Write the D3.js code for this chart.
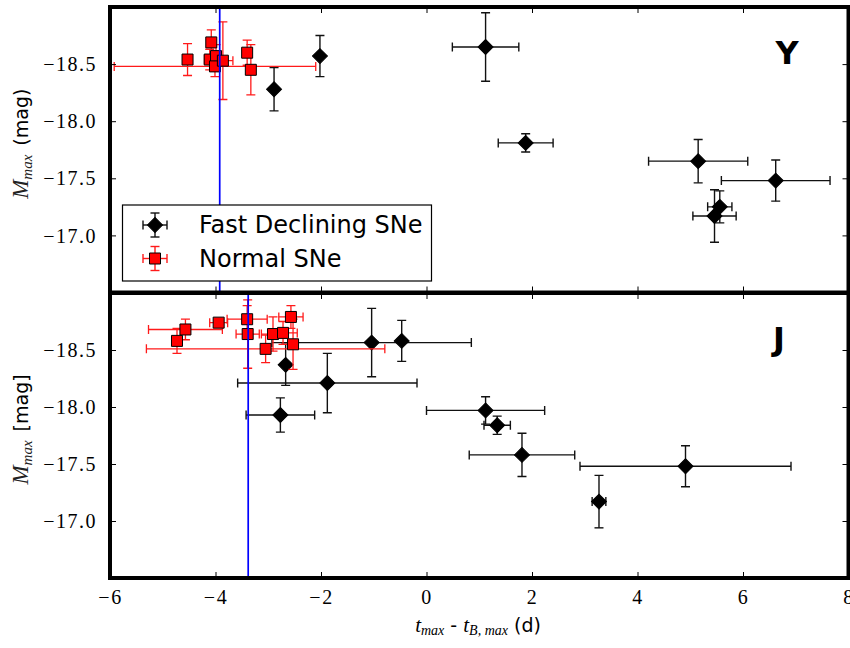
<!DOCTYPE html>
<html>
<head>
<meta charset="utf-8">
<script src="https://cdn.jsdelivr.net/npm/d3@7"></script>
<style>
body { margin: 0; background: #fff; }
</style>
</head>
<body>
<svg id="chart" width="850" height="648"></svg>
<script>
// values
var xTicks = [-6, -4, -2, 0, 2, 4, 6, 8];
var magTicks = [-18.5, -18.0, -17.5, -17.0];

// Y band, fast declining
var yFastT    = [-2.02, -2.89, 1.12, 1.88, 5.15, 6.62, 5.56, 5.46];
var yFastTerr = [0, 0, 0.63, 0.52, 0.94, 1.03, 0.23, 0.41];
var yFastM    = [-18.57, -18.28, -18.65, -17.81, -17.65, -17.48, -17.25, -17.17];
var yFastMerr = [0.18, 0.19, 0.30, 0.08, 0.19, 0.18, 0.14, 0.23];

// Y band, normal
var yNormT    = [-4.53, -4.08, -4.11, -3.99, -4.01, -3.86, -3.40, -3.33];
var yNormTerr = [0, 0, 0.10, 0, 1.91, 0.19, 0, 0];
var yNormM    = [-18.54, -18.69, -18.54, -18.57, -18.48, -18.53, -18.60, -18.45];
var yNormMerr = [0.14, 0.11, 0.09, 0.10, 0.09, 0.34, 0.11, 0.22];

// J band, fast declining
var jFastT    = [-2.67, -1.88, -2.77, -1.04, -0.47, 1.12, 1.34, 1.81, 4.91, 3.27];
var jFastTerr = [0, 1.70, 0.65, 1.89, 0, 1.12, 0.25, 1.00, 2.00, 0.13];
var jFastM    = [-18.37, -18.21, -17.93, -18.565, -18.58, -17.97, -17.84, -17.58, -17.48, -17.17];
var jFastMerr = [0.18, 0.26, 0.15, 0.30, 0.18, 0.12, 0.08, 0.19, 0.18, 0.23];

// J band, normal
var jNormT    = [-4.73, -4.57, -3.94, -3.40, -3.39, -3.05, -2.91, -2.72, -2.57, -2.53];
var jNormTerr = [0, 0.70, 0.17, 0.38, 0.22, 2.26, 0.22, 0.27, 0.23, 0];
var jNormM    = [-18.58, -18.68, -18.74, -18.77, -18.64, -18.51, -18.64, -18.65, -18.79, -18.55];
var jNormMerr = [0.11, 0.09, 0.03, 0.12, 0.30, 0.12, 0.15, 0.10, 0.10, 0.22];

// mean offsets (blue lines)
var yMeanT = -3.92;
var jMeanT = -3.38;

var svg = d3.select("#chart");

var left = 110, right = 848.5;
var xScale = d3.scaleLinear().domain([-6, 8]).range([left, right]);

var panels = [
	{ name: "Y", top: 7, bottom: 292.5, letterX: 787, letterY: 64, ylab: "(mag)",
	  fast: [yFastT, yFastTerr, yFastM, yFastMerr], norm: [yNormT, yNormTerr, yNormM, yNormMerr], mean: yMeanT },
	{ name: "J", top: 293, bottom: 578, letterX: 779, letterY: 350, ylab: "[mag]",
	  fast: [jFastT, jFastTerr, jFastM, jFastMerr], norm: [jNormT, jNormTerr, jNormM, jNormMerr], mean: jMeanT }
];

function errorbars(g, ys, d, color, lw, cap) {
	var t = d[0], tErr = d[1], m = d[2], mErr = d[3];
	var idx = d3.range(t.length);
	var withT = idx.filter(i => tErr[i] > 0);
	var withM = idx.filter(i => mErr[i] > 0);

	var eg = g.append("g").attr("stroke", color).attr("stroke-width", lw);
	eg.selectAll(".xe").data(withT).join("line")
		.attr("x1", i => xScale(t[i] - tErr[i])).attr("x2", i => xScale(t[i] + tErr[i]))
		.attr("y1", i => ys(m[i])).attr("y2", i => ys(m[i]));
	eg.selectAll(".ye").data(withM).join("line")
		.attr("x1", i => xScale(t[i])).attr("x2", i => xScale(t[i]))
		.attr("y1", i => ys(m[i] - mErr[i])).attr("y2", i => ys(m[i] + mErr[i]));
	// caps
	[-1, 1].forEach(function(s) {
		eg.selectAll(null).data(withT).join("line")
			.attr("x1", i => xScale(t[i] + s * tErr[i])).attr("x2", i => xScale(t[i] + s * tErr[i]))
			.attr("y1", i => ys(m[i]) - cap).attr("y2", i => ys(m[i]) + cap);
		eg.selectAll(null).data(withM).join("line")
			.attr("x1", i => xScale(t[i]) - cap).attr("x2", i => xScale(t[i]) + cap)
			.attr("y1", i => ys(m[i] + s * mErr[i])).attr("y2", i => ys(m[i] + s * mErr[i]));
	});
	return idx;
}

var diamond = d3.symbol(d3.symbolSquare, 112);
var square = d3.symbol(d3.symbolSquare, 121);

panels.forEach(function(p, k) {
	var yScale = d3.scaleLinear().domain([-19, -16.5]).range([p.top, p.bottom]);

	var clipId = "clip" + k;
	svg.append("clipPath").attr("id", clipId)
		.append("rect").attr("x", left).attr("y", p.top).attr("width", right - left).attr("height", p.bottom - p.top);

	var g = svg.append("g").attr("clip-path", "url(#" + clipId + ")");

	// fast decliners
	var idx = errorbars(g, yScale, p.fast, "#111", 1.4, 4.5);
	g.selectAll(".fast").data(idx).join("path")
		.attr("d", diamond)
		.attr("transform", i => "translate(" + xScale(p.fast[0][i]) + "," + yScale(p.fast[2][i]) + ") rotate(45)")
		.attr("fill", "#000").attr("stroke", "#000").attr("stroke-width", 1);

	// normal
	idx = errorbars(g, yScale, p.norm, "#ff1a1a", 1.3, 4.5);
	g.selectAll(".norm").data(idx).join("path")
		.attr("d", square)
		.attr("transform", i => "translate(" + xScale(p.norm[0][i]) + "," + yScale(p.norm[2][i]) + ")")
		.attr("fill", "#ff0000").attr("stroke", "#000").attr("stroke-width", 1);

	// blue mean line
	g.append("line")
		.attr("x1", xScale(p.mean)).attr("x2", xScale(p.mean))
		.attr("y1", p.top).attr("y2", p.bottom)
		.attr("stroke", "#0000ff").attr("stroke-width", 1.7);

	// axes with inward ticks
	var yAxis = d3.axisLeft(yScale).tickValues(magTicks).tickSizeInner(-6).tickSizeOuter(0)
		.tickPadding(13).tickFormat(d3.format(".1f"));
	var ya = svg.append("g").attr("transform", "translate(" + left + ",0)").call(yAxis);
	svg.append("g").attr("transform", "translate(" + right + ",0)")
		.call(d3.axisRight(yScale).tickValues(magTicks).tickSizeInner(-6).tickSizeOuter(0).tickFormat(""));

	var xb = svg.append("g").attr("transform", "translate(0," + p.bottom + ")")
		.call(d3.axisBottom(xScale).tickValues(xTicks).tickSizeInner(-6).tickSizeOuter(0)
			.tickPadding(12).tickFormat(k == 1 ? d3.format("d") : ""));
	svg.append("g").attr("transform", "translate(0," + p.top + ")")
		.call(d3.axisTop(xScale).tickValues(xTicks).tickSizeInner(-6).tickSizeOuter(0).tickFormat(""));

	svg.selectAll(".domain").remove();
	[ya, xb].forEach(function(a) {
		a.selectAll("text").attr("font-family", "Liberation Serif, serif").attr("font-size", 20)
			.attr("letter-spacing", 1.5).attr("fill", "#000");
	});
	ya.selectAll("text").attr("dy", "0.33em");
	svg.selectAll(".tick line").attr("stroke", "#000").attr("stroke-width", 1);

	// frame
	svg.append("rect")
		.attr("x", left).attr("y", p.top).attr("width", right - left).attr("height", p.bottom - p.top)
		.attr("fill", "none").attr("stroke", "#000").attr("stroke-width", 4);

	// band letter
	svg.append("text")
		.attr("x", p.letterX).attr("y", p.letterY)
		.attr("text-anchor", "middle")
		.attr("font-family", "DejaVu Sans").attr("font-weight", "bold").attr("font-size", 32)
		.text(p.name);

	// y label
	var cy = (p.top + p.bottom) / 2 - 6;
	var lab = svg.append("text")
		.attr("transform", "translate(28," + cy + ") rotate(-90)")
		.attr("text-anchor", "middle").attr("fill", "#222");
	lab.append("tspan").attr("font-family", "Liberation Serif, serif").attr("font-style", "italic")
		.attr("font-size", 23).text("M");
	lab.append("tspan").attr("font-family", "Liberation Serif, serif").attr("font-style", "italic")
		.attr("font-size", 15).attr("dy", 4).text("max");
	lab.append("tspan").attr("font-family", "DejaVu Sans").attr("font-size", 19)
		.attr("dy", -4).attr("dx", 9).attr("fill", "#000").text(p.ylab);
});

// x label
var xl = svg.append("text").attr("x", 478).attr("y", 632).attr("text-anchor", "middle");
xl.append("tspan").attr("font-family", "Liberation Serif, serif").attr("font-style", "italic").attr("font-size", 21).text("t");
xl.append("tspan").attr("font-family", "Liberation Serif, serif").attr("font-style", "italic").attr("font-size", 14).attr("dy", 3).text("max");
xl.append("tspan").attr("font-family", "DejaVu Sans").attr("font-size", 19).attr("dy", -3).text(" - ");
xl.append("tspan").attr("font-family", "Liberation Serif, serif").attr("font-style", "italic").attr("font-size", 21).text("t");
xl.append("tspan").attr("font-family", "Liberation Serif, serif").attr("font-style", "italic").attr("font-size", 14).attr("dy", 3).text("B, max");
xl.append("tspan").attr("font-family", "DejaVu Sans").attr("font-size", 19).attr("dy", -3).attr("dx", 6).text("(d)");

// legend
var lg = svg.append("g");
lg.append("rect").attr("x", 122.5).attr("y", 205).attr("width", 309).attr("height", 76)
	.attr("fill", "#fff").attr("stroke", "#000").attr("stroke-width", 1.2);
var legItems = [
	{ label: "Fast Declining SNe", color: "#111", y: 225, shape: diamond, rot: 45, fill: "#000" },
	{ label: "Normal SNe", color: "#ff1a1a", y: 258.5, shape: square, rot: 0, fill: "#ff0000" }
];
legItems.forEach(function(d) {
	var mx = 155;
	var eg = lg.append("g").attr("stroke", d.color).attr("stroke-width", 1.4);
	eg.append("line").attr("x1", mx - 12).attr("x2", mx + 12).attr("y1", d.y).attr("y2", d.y);
	eg.append("line").attr("x1", mx).attr("x2", mx).attr("y1", d.y - 12).attr("y2", d.y + 12);
	[-12, 12].forEach(function(o) {
		eg.append("line").attr("x1", mx + o).attr("x2", mx + o).attr("y1", d.y - 4.5).attr("y2", d.y + 4.5);
		eg.append("line").attr("x1", mx - 4.5).attr("x2", mx + 4.5).attr("y1", d.y + o).attr("y2", d.y + o);
	});
	lg.append("path").attr("d", d.shape)
		.attr("transform", "translate(" + mx + "," + d.y + ") rotate(" + d.rot + ")")
		.attr("fill", d.fill).attr("stroke", "#000").attr("stroke-width", 1);
	lg.append("text").attr("x", 199).attr("y", d.y + 8)
		.attr("font-family", "DejaVu Sans").attr("font-size", 24).text(d.label);
});
</script>
</body>
</html>
